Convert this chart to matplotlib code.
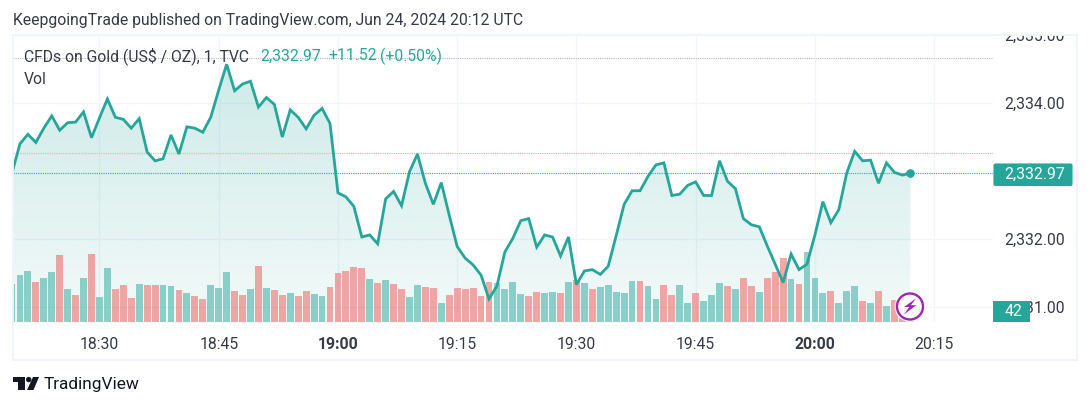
import numpy as np
import matplotlib
matplotlib.use('Agg')
import matplotlib.pyplot as plt
from matplotlib.patches import Circle, FancyBboxPatch, Polygon, Rectangle
from matplotlib.transforms import Affine2D, Bbox

plt.rcParams['font.family'] = ['Roboto', 'DejaVu Sans']

# one value per minute, starting 18:19
price = [2332.97, 2333.40, 2333.54, 2333.42, 2333.63, 2333.81, 2333.60, 2333.71, 2333.72, 2333.87,
         2333.49, 2333.78, 2334.06, 2333.79, 2333.76, 2333.63, 2333.77, 2333.28, 2333.15, 2333.18,
         2333.53, 2333.25, 2333.65, 2333.63, 2333.57, 2333.79, 2334.19, 2334.57, 2334.18, 2334.28,
         2334.32, 2333.94, 2334.08, 2333.98, 2333.50, 2333.90, 2333.79, 2333.62, 2333.82, 2333.92,
         2333.70, 2332.68, 2332.62, 2332.48, 2332.03, 2332.06, 2331.93, 2332.59, 2332.70, 2332.49,
         2332.99, 2333.25, 2332.82, 2332.51, 2332.83, 2332.35, 2331.89, 2331.72, 2331.62, 2331.47,
         2331.12, 2331.31, 2331.81, 2332.01, 2332.27, 2332.30, 2331.88, 2332.06, 2332.03, 2331.75,
         2332.03, 2331.33, 2331.53, 2331.55, 2331.48, 2331.60, 2332.05, 2332.51, 2332.71, 2332.71,
         2332.92, 2333.09, 2333.12, 2332.64, 2332.66, 2332.79, 2332.84, 2332.64, 2332.64, 2333.15,
         2332.85, 2332.74, 2332.30, 2332.21, 2332.18, 2331.90, 2331.63, 2331.36, 2331.78, 2331.55,
         2331.63, 2332.06, 2332.55, 2332.24, 2332.43, 2332.97, 2333.29, 2333.15, 2333.16, 2332.82,
         2333.12, 2332.98, 2332.94, 2332.97]
volume = [1140, 1420, 1540, 1210, 1330, 1490, 2010, 980, 810, 1330,
          2040, 750, 1610, 980, 1120, 720, 1140, 1100, 1120, 1100,
          1080, 960, 870, 780, 680, 1100, 1030, 1490, 930, 810,
          980, 1680, 1010, 960, 810, 870, 770, 930, 840, 790,
          1050, 1480, 1520, 1650, 1630, 1280, 1160, 1260, 1140, 1000,
          750, 1100, 1050, 1020, 580, 810, 1020, 980, 1020, 770,
          1210, 1160, 980, 1210, 840, 770, 910, 860, 890, 860,
          1210, 1260, 1160, 980, 1050, 1120, 890, 860, 1230, 1230,
          1070, 700, 1100, 810, 1100, 560, 860, 630, 810, 1160,
          1070, 980, 1320, 1070, 890, 1320, 1490, 1920, 1280, 1140,
          2110, 1310, 860, 930, 580, 930, 1070, 630, 560, 930,
          480, 650, 150, 42]
# g = up bar, r = down bar
direction = ('gggrggrgrgrggrrrgrrggrgrrgggrrgrgrrgrrggrrrrr'
             + 'grgrrggrrgrrrrrrggggrrggrgrgrgggggrggrrggrgggrgrrgrrrgrgggrgggrgrgrrg')

time_ticks = [11, 26, 41, 56, 71, 86, 101, 116]
time_labels = ['18:30', '18:45', '19:00', '19:15', '19:30', '19:45', '20:00', '20:15']
bold_labels = ['19:00', '20:00']
price_ticks = [2331, 2332, 2334, 2335]
price_labels = ['2,331.00', '2,332.00', '2,334.00', '2,335.00']

high_line = 2334.66
prev_line = 2333.265
last_price = 2332.97
last_volume = 42

teal = '#26a69a'
text_col = '#363a45'
grid_col = '#f0f3fa'
font_size = 11.35

W, H = 1090, 407
L, R, T, B = 13, 993, 35, 322
fig = plt.figure(figsize=(W / 100, H / 100), dpi=100, facecolor='white')
px = Affine2D().scale(1, -1).translate(0, H)  # figure pixels, y down


def pane(**kw):
    return fig.add_axes([L / W, 1 - B / H, (R - L) / W, (B - T) / H], **kw)


minutes = np.arange(len(price))
xlim = (0.126, 123.4)
ylim = (2330.78, 2335.0)

ax = pane()
ax.set_xlim(xlim)
ax.set_ylim(ylim)
ax.set_xticks(time_ticks)
ax.set_xticklabels(time_labels)
ax.yaxis.tick_right()
ax.set_yticks(price_ticks)
ax.set_yticklabels(price_labels)
ax.tick_params(length=0, labelsize=font_size, colors=text_col)
ax.tick_params(axis='x', pad=10.5)
ax.tick_params(axis='y', pad=8)
ax.grid(True, color='#f3f5fa', lw=1)
ax.set_axisbelow(True)
for s in ax.spines.values():
    s.set_visible(False)
for lab in ax.get_xticklabels():
    if lab.get_text() in bold_labels:
        lab.set_fontweight('bold')
# top price label is cut off by the chart frame
for lab in ax.get_yticklabels():
    lab.set_clip_box(Bbox([[0, H - 360], [W, H - T]]))
    lab.set_clip_on(True)

# area under the line
shade = ax.fill_between(minutes, price, ylim[0], facecolor='none', edgecolor='none')
grad = np.zeros((256, 1, 4))
grad[:, 0, :3] = matplotlib.colors.to_rgb(teal)
grad[:, 0, 3] = np.linspace(0.23, 0.06, 256)
im = ax.imshow(grad, extent=(xlim[0], xlim[1], ylim[0], 2334.6), aspect='auto', origin='upper', zorder=1)
im.set_clip_path(shade.get_paths()[0], transform=ax.transData)
ax.set_xlim(xlim)
ax.set_ylim(ylim)

ax_vol = pane(sharex=ax)
ax_vol.set_ylim(0, 8610)
ax_vol.patch.set_visible(False)
ax_vol.axis('off')
colors = [teal if d == 'g' else '#ef5350' for d in direction]
ax_vol.bar(minutes, volume, width=0.86, color=colors, alpha=0.5, linewidth=0)

ax_top = pane(sharex=ax)
ax_top.set_ylim(ylim)
ax_top.patch.set_visible(False)
ax_top.axis('off')
ax_top.axhline(high_line, color='#b2b5be', lw=0.8, ls=(0, (1, 1)))
ax_top.axhline(prev_line, color='#f9b0b0', lw=0.9, ls=(0, (1, 0.8)))
ax_top.axhline(last_price, color='#5d9af5', lw=0.9, ls=(0, (1, 0.8)))
ax_top.plot(minutes, price, color=teal, lw=2.0, solid_joinstyle='miter')
ax_top.plot(minutes[-1], price[-1], 'o', color=teal, ms=6.2, mew=0)

# frame round the chart
fig.add_artist(Rectangle((12.5, 35), 1064, 324.5, transform=px, fill=False, ec=grid_col, lw=1.3))

# price and volume tags
fig.add_artist(FancyBboxPatch((994, 164), 78, 21.5, boxstyle='round,pad=0,rounding_size=1.5', transform=px,
                              fc=teal, ec=teal, lw=0.8, zorder=5))
fig.text(1065, 174.5, f'{last_price:,.2f}', transform=px, color='white', fontsize=font_size, ha='right', va='center', zorder=6)
fig.add_artist(Rectangle((993, 301), 37, 21, transform=px, fc=teal, ec='none', zorder=5))
fig.text(1014, 312, str(last_volume), transform=px, color='white', fontsize=font_size, ha='center', va='center', zorder=6)

# headings
fig.text(13, 20.5, 'KeepgoingTrade published on TradingView.com, Jun 24, 2024 20:12 UTC', transform=px,
         color=text_col, fontsize=font_size, va='center')
fig.text(24, 56, 'CFDs on Gold (US$ / OZ), 1, TVC', transform=px, color=text_col, fontsize=font_size, va='center', zorder=6)
fig.text(24, 79, 'Vol', transform=px, color=text_col, fontsize=font_size, va='center', zorder=6)
fig.text(260, 56, '2,332.97', transform=px, color=teal, fontsize=font_size, va='center', zorder=6)
fig.text(328, 56, '+11.52', transform=px, color=teal, fontsize=font_size, va='center', zorder=6)
fig.text(380, 56, '(+0.50%)', transform=px, color=teal, fontsize=font_size, va='center', zorder=6)

# lightning badge
cx, cy = 910, 306.5
fig.add_artist(Circle((cx, cy), 15.5, transform=px, fc='white', ec='none', alpha=0.75, zorder=7))
fig.add_artist(Circle((cx, cy), 13, transform=px, fc='white', ec='#9c27b0', lw=1.7, zorder=7))
bolt = np.array([(6, -8), (-6, 0.5), (-0.8, 0.5), (-6, 8), (6.3, -1.3), (0.9, -1.3)]) + (cx, cy)
fig.add_artist(Polygon(bolt, transform=px, fc='#9c27b0', ec='none', zorder=8))

# logo
logo = '#131722'
fig.add_artist(Polygon([(13, 377), (25.3, 377), (25.3, 390), (17.5, 390), (17.5, 382), (13, 382)], transform=px, fc=logo, ec='none'))
fig.add_artist(Circle((28.7, 379.6), 2.7, transform=px, fc=logo, ec='none'))
fig.add_artist(Polygon([(33, 377), (39, 377), (33.5, 390), (27, 390)], transform=px, fc=logo, ec='none'))
fig.text(44, 384, 'TradingView', transform=px, color=logo, fontsize=12.4, va='center')

fig.savefig('out.png', dpi=100)
